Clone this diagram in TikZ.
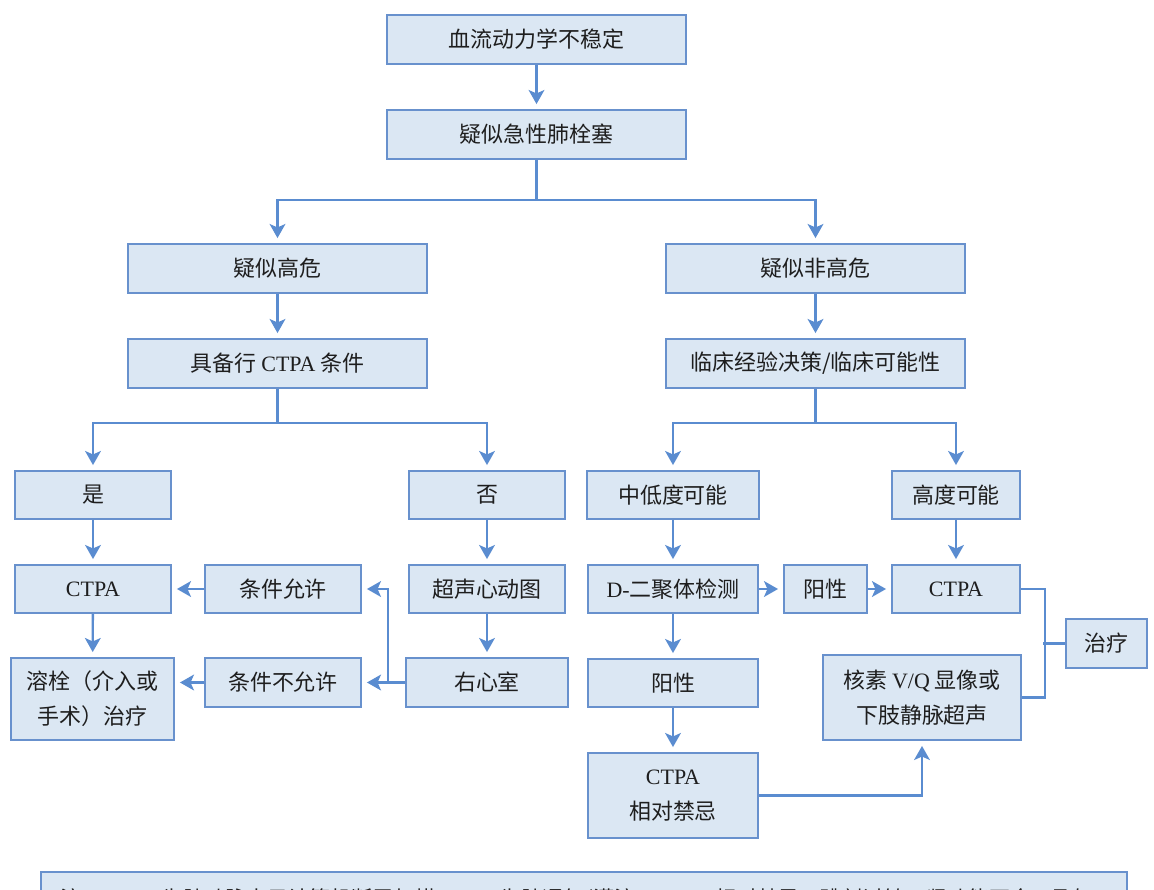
\documentclass[tikz,border=0pt]{standalone}
\usepackage{fontspec}
\setmainfont{Liberation Serif}
\newfontfamily\cjk{Noto Sans CJK SC}
\XeTeXlinebreaklocale "zh"
\usetikzlibrary{arrows.meta}

\definecolor{boxfill}{RGB}{219,231,243}
\definecolor{boxline}{RGB}{104,145,205}
\definecolor{arrowblue}{RGB}{90,140,208}
\definecolor{textcol}{RGB}{30,30,30}
\newcommand\engl[1]{{\rmfamily #1}}

\begin{document}
\begin{tikzpicture}[
		x=0.02cm, y=-0.02cm,
		% Box style for every step
		blk/.style={
			draw=boxline,
			fill=boxfill,
			line width=1.1pt,
			text=textcol,
			font=\cjk\fontsize{12.5}{20}\selectfont,
			align=center,
			inner sep=0pt
		},
		% Plain connector
		conn/.style={
			draw=arrowblue,
			line width=1.3pt
		},
		% Connector with arrow tip
		arr/.style={
			conn,
			-{Stealth[length=8pt,width=9pt,inset=2pt]},
			shorten >=0.1cm
		}
		]
		
		\useasboundingbox (0,0) rectangle (1154,890);
		
		% --- Top of the chart ---
		\node[blk, minimum width=5.98cm, minimum height=0.98cm] (hemo) at (536.5,39.5) {血流动力学不稳定};
		\node[blk, minimum width=5.98cm, minimum height=0.98cm] (susp) at (536.5,134.5) {疑似急性肺栓塞};
		
		% --- High risk branch ---
		\node[blk, minimum width=5.98cm, minimum height=0.98cm] (high) at (277.5,268.5) {疑似高危};
		\node[blk, minimum width=5.98cm, minimum height=0.98cm] (ctpacond) at (277.5,363.5) {具备行 \engl{CTPA} 条件};
		\node[blk, minimum width=3.12cm, minimum height=0.96cm] (yes) at (93,495) {是};
		\node[blk, minimum width=3.12cm, minimum height=0.96cm] (no) at (487,495) {否};
		\node[blk, minimum width=3.12cm, minimum height=0.96cm] (ctpaL) at (93,589) {\engl{CTPA}};
		\node[blk, minimum width=3.12cm, minimum height=0.96cm] (allow) at (283,589) {条件允许};
		\node[blk, minimum width=3.12cm, minimum height=0.96cm] (echo) at (487,589) {超声心动图};
		\node[blk, minimum width=3.26cm, minimum height=1.64cm] (thromb) at (92.5,699) {溶栓（介入或\\手术）治疗};
		\node[blk, minimum width=3.12cm, minimum height=0.98cm] (notallow) at (283,682.5) {条件不允许};
		\node[blk, minimum width=3.24cm, minimum height=0.98cm] (rv) at (487,682.5) {右心室};
		
		% --- Non high risk branch ---
		\node[blk, minimum width=5.98cm, minimum height=0.98cm] (nonhigh) at (815.5,268.5) {疑似非高危};
		\node[blk, minimum width=5.98cm, minimum height=0.98cm] (clin) at (815.5,363.5) {临床经验决策/临床可能性};
		\node[blk, minimum width=3.44cm, minimum height=0.96cm] (midlow) at (673,495) {中低度可能};
		\node[blk, minimum width=2.56cm, minimum height=0.96cm] (highprob) at (956,495) {高度可能};
		\node[blk, minimum width=3.40cm, minimum height=0.96cm] (ddimer) at (673,589) {\engl{D-}二聚体检测};
		\node[blk, minimum width=1.66cm, minimum height=0.96cm] (posR) at (825.5,589) {阳性};
		\node[blk, minimum width=2.56cm, minimum height=0.96cm] (ctpaR) at (956,589) {\engl{CTPA}};
		\node[blk, minimum width=1.62cm, minimum height=0.98cm] (treat) at (1106.5,643.5) {治疗};
		\node[blk, minimum width=3.96cm, minimum height=1.70cm] (vq) at (922,697.5) {核素 \engl{V/Q} 显像或\\下肢静脉超声};
		\node[blk, minimum width=3.40cm, minimum height=0.96cm] (posL) at (673,683) {阳性};
		\node[blk, minimum width=3.40cm, minimum height=1.70cm] (contra) at (673,795.5) {\engl{CTPA}\\相对禁忌};
		
		% --- Note at the bottom ---
		\node[blk, anchor=north west, align=left, text width=20.92cm, inner xsep=0.4cm, inner ysep=0.34cm, text depth=1cm, font=\cjk\fontsize{12}{20}\selectfont] (note) at (40,871) {\mbox{注：\engl{CTPA} 为肺动脉电子计算机断层扫描；\engl{V/Q} 为肺通气/灌注；\engl{CTPA} 相对禁忌：碘剂过敏、肾功能不全、孕妇}};
		
		% --- Connectors ---
		\draw[arr] (hemo) -- (susp);
		\draw[conn] (susp.south) -- ++(0,40) coordinate (s1);
		\draw[arr] (s1) -| (high.north);
		\draw[arr] (s1) -| (nonhigh.north);
		
		\draw[arr] (high) -- (ctpacond);
		\draw[conn] (ctpacond.south) -- ++(0,34) coordinate (s2);
		\draw[arr] (s2) -| (yes.north);
		\draw[arr] (s2) -| (no.north);
		\draw[arr] (yes) -- (ctpaL);
		\draw[arr] (ctpaL) -- (thromb);
		\draw[arr] (no) -- (echo);
		\draw[arr] (echo) -- (rv);
		\draw[arr] (allow) -- (ctpaL);
		\draw[arr] (rv) -- (notallow);
		\draw[arr] (rv.west) ++(-17,0) |- (allow.east);
		\draw[arr] (notallow.west) -- (notallow.west -| thromb.east);
		
		\draw[arr] (nonhigh) -- (clin);
		\draw[conn] (clin.south) -- ++(0,34) coordinate (s3);
		\draw[arr] (s3) -| (midlow.north);
		\draw[arr] (s3) -| (highprob.north);
		\draw[arr] (midlow) -- (ddimer);
		\draw[arr] (highprob) -- (ctpaR);
		\draw[arr] (ddimer) -- (posR);
		\draw[arr] (posR) -- (ctpaR);
		\draw[arr] (ddimer) -- (posL);
		\draw[arr] (posL) -- (contra);
		\draw[arr] (contra.east) -| (vq.south);
		
		% bracket to treatment
		\draw[conn] (ctpaR.east) -- ++(24,0) |- (vq.east);
		\draw[conn] (treat.west) -- ++(-22,0);
		
	\end{tikzpicture}
\end{document}
